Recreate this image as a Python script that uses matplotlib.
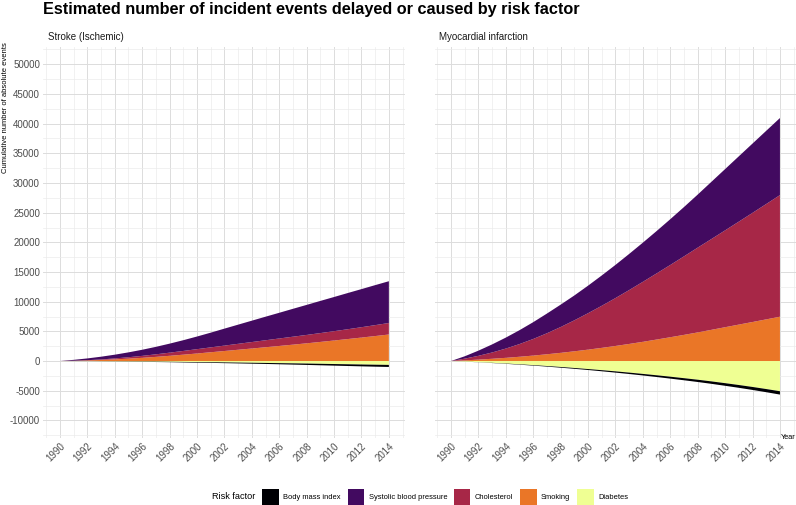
import matplotlib.pyplot as plt
from matplotlib.patches import Patch
from matplotlib.ticker import MultipleLocator

plt.rcParams['font.family'] = ['Liberation Sans', 'DejaVu Sans']
plt.rcParams['axes.unicode_minus'] = False

years = list(range(1990, 2015))

# Stroke (Ischemic)
stroke_smoking = [0, 40, 100, 180, 280, 400, 540, 700, 880, 1070, 1270, 1480, 1690, 1900, 2110,
                  2325, 2540, 2760, 2985, 3220, 3460, 3705, 3955, 4210, 4470]
stroke_chol = [0, 10, 40, 90, 160, 240, 330, 430, 530, 630, 730, 820, 910, 1000, 1090,
               1175, 1260, 1340, 1415, 1490, 1570, 1655, 1745, 1840, 1940]
stroke_sbp = [0, 150, 300, 460, 630, 820, 1030, 1260, 1520, 1810, 2130, 2480, 2860, 3230, 3600,
              3970, 4330, 4700, 5060, 5420, 5760, 6100, 6420, 6740, 7040]
stroke_diab = [0, -10, -20, -35, -50, -65, -85, -105, -125, -150, -175, -200, -230, -260, -290,
               -320, -355, -390, -425, -465, -505, -545, -585, -620, -650]
stroke_bmi = [0, -5, -10, -20, -30, -40, -50, -60, -70, -85, -100, -110, -125, -140, -155,
              -170, -190, -210, -230, -250, -270, -290, -310, -330, -350]

# Myocardial infarction
mi_smoking = [0, 110, 240, 380, 540, 720, 920, 1140, 1380, 1640, 1920, 2220, 2540, 2880, 3240,
              3620, 4010, 4410, 4820, 5260, 5700, 6140, 6580, 7020, 7470]
mi_chol = [0, 290, 640, 1060, 1560, 2140, 2800, 3540, 4350, 5220, 6140, 7090, 8070, 9080, 10110,
           11140, 12180, 13230, 14290, 15300, 16320, 17350, 18390, 19440, 20490]
mi_sbp = [0, 400, 870, 1360, 1850, 2340, 2830, 3320, 3770, 4190, 4640, 5110, 5590, 6090, 6600,
          7140, 7710, 8310, 8940, 9640, 10330, 11010, 11680, 12340, 12990]
mi_diab = [0, -90, -190, -300, -420, -550, -690, -840, -1000, -1170, -1350, -1540, -1740, -1950, -2170,
           -2400, -2640, -2890, -3150, -3430, -3730, -4040, -4370, -4720, -5090]
mi_bmi = [0, -10, -20, -35, -50, -65, -80, -100, -120, -140, -160, -185, -210, -235, -260,
          -290, -320, -350, -380, -410, -440, -470, -500, -530, -560]

panels = ['Stroke (Ischemic)', 'Myocardial infarction']
factors = ['Body mass index', 'Systolic blood pressure', 'Cholesterol', 'Smoking', 'Diabetes']
colors = {'Body mass index': '#000004', 'Systolic blood pressure': '#420A60',
          'Cholesterol': '#A72747', 'Smoking': '#EA7627', 'Diabetes': '#EFFF93'}

data = [
    (stroke_smoking, stroke_chol, stroke_sbp, stroke_diab, stroke_bmi),
    (mi_smoking, mi_chol, mi_sbp, mi_diab, mi_bmi),
]

fig = plt.figure(figsize=(7.96, 5.05), dpi=100)
ax_w = 0.4546
ax_b = 0.1323
ax_h = 0.7756
axes = [fig.add_axes([0.0546, ax_b, ax_w, ax_h]),
        fig.add_axes([0.5459, ax_b, ax_w, ax_h])]

for i, ax in enumerate(axes):
    smk, chol, sbp, diab, bmi = data[i]
    # positive contributions stacked up, negative ones stacked down
    ax.stackplot(years, smk, chol, sbp,
                 colors=[colors['Smoking'], colors['Cholesterol'], colors['Systolic blood pressure']],
                 linewidth=0, zorder=3)
    ax.stackplot(years, diab, bmi,
                 colors=[colors['Diabetes'], colors['Body mass index']],
                 linewidth=0, zorder=3)

    ax.set_xlim(1988.8, 2015.2)
    ax.set_ylim(-13000, 53000)
    ax.xaxis.set_major_locator(MultipleLocator(2))
    ax.xaxis.set_minor_locator(MultipleLocator(1))
    ax.yaxis.set_major_locator(MultipleLocator(5000))
    ax.yaxis.set_minor_locator(MultipleLocator(2500))
    ax.grid(which='major', color='#DCDCDC', linewidth=0.7, zorder=0)
    ax.grid(which='minor', color='#EBEBEB', linewidth=0.5, zorder=0)
    ax.set_axisbelow(True)
    for s in ax.spines.values():
        s.set_visible(False)
    ax.tick_params(which='both', length=0, labelsize=7, labelcolor='#4D4D4D')
    ax.tick_params(axis='y', pad=2.5)
    ax.tick_params(axis='x', pad=2)
    for lab in ax.get_xticklabels():
        lab.set_rotation(45)
        lab.set_ha('right')
        lab.set_va('top')
        lab.set_rotation_mode('anchor')
    if i == 1:
        ax.set_yticklabels([])
    ax.set_title(panels[i], loc='left', fontsize=7, color='#1A1A1A', pad=5, x=0.012)

fig.text(0.054, 0.982, 'Estimated number of incident events delayed or caused by risk factor',
         fontsize=11.7, fontweight='bold', ha='left', va='center')
fig.text(0.007, 0.917, 'Cumulative number of absolute events', rotation=90,
         fontsize=5.5, ha='center', va='top')
fig.text(0.999, 0.133, 'Year', fontsize=5.3, ha='right', va='center')

handles = [Patch(facecolor=colors[f], edgecolor='none') for f in factors]
fig.text(0.266, 0.016, 'Risk factor', fontsize=6.6, ha='left', va='center')
fig.legend(handles, factors, ncol=5, loc='center left', bbox_to_anchor=(0.3295, 0.016),
           frameon=False, fontsize=5.4, handlelength=2.2, handleheight=2.9,
           handletextpad=0.6, columnspacing=0.9, borderpad=0, borderaxespad=0)

fig.savefig('out.png', dpi=100)
